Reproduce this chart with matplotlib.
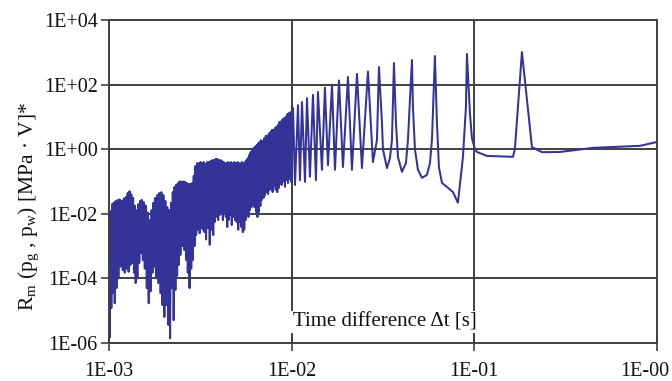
import numpy as np
import matplotlib.pyplot as plt
from matplotlib.ticker import NullLocator
from matplotlib.transforms import ScaledTranslation

plt.rcParams['font.family'] = 'Liberation Serif'
plt.rcParams['mathtext.fontset'] = 'custom'
plt.rcParams['mathtext.rm'] = 'Liberation Serif'
plt.rcParams['mathtext.it'] = 'Liberation Serif:italic'

# dense noisy part, 1E-03 .. 1E-02 s (time in ms)
t_dense_ms = [
    1.003, 1.010, 1.020, 1.030, 1.040, 1.050, 1.062, 1.075, 1.088, 1.100,
    1.115, 1.130, 1.145, 1.160, 1.175, 1.190, 1.205, 1.220, 1.235, 1.250,
    1.265, 1.280, 1.295, 1.310, 1.325, 1.340, 1.355, 1.370, 1.385, 1.400,
    1.415, 1.430, 1.450, 1.465, 1.480, 1.495, 1.510, 1.530, 1.550, 1.570,
    1.590, 1.610, 1.630, 1.650, 1.670, 1.690, 1.710, 1.730, 1.750, 1.770,
    1.790, 1.810, 1.835, 1.860, 1.885, 1.910, 1.935, 1.960, 1.985, 2.010,
    2.035, 2.060, 2.085, 2.110, 2.135, 2.160, 2.185, 2.210, 2.235, 2.260,
    2.285, 2.310, 2.335, 2.360, 2.385, 2.410, 2.435, 2.460, 2.490, 2.520,
    2.550, 2.580, 2.610, 2.640, 2.670, 2.700, 2.730, 2.760, 2.790, 2.820,
    2.850, 2.880, 2.910, 2.940, 2.970, 3.000, 3.035, 3.070, 3.100, 3.135,
    3.170, 3.200, 3.235, 3.270, 3.300, 3.335, 3.370, 3.400, 3.440, 3.480,
    3.520, 3.560, 3.600, 3.640, 3.680, 3.720, 3.760, 3.800, 3.840, 3.880,
    3.920, 3.960, 4.000, 4.040, 4.080, 4.120, 4.160, 4.200, 4.240, 4.280,
    4.320, 4.360, 4.400, 4.440, 4.480, 4.520, 4.560, 4.600, 4.650, 4.700,
    4.750, 4.800, 4.850, 4.900, 4.950, 5.000, 5.050, 5.100, 5.150, 5.200,
    5.250, 5.300, 5.350, 5.400, 5.450, 5.500, 5.550, 5.600, 5.650, 5.700,
    5.750, 5.800, 5.850, 5.900, 5.960, 6.020, 6.080, 6.140, 6.200, 6.260,
    6.320, 6.380, 6.440, 6.500, 6.560, 6.620, 6.680, 6.740, 6.800, 6.870,
    6.940, 7.010, 7.080, 7.150, 7.220, 7.290, 7.360, 7.430, 7.500, 7.570,
    7.640, 7.710, 7.780, 7.860, 7.940, 8.020, 8.100, 8.180, 8.260, 8.340,
    8.420, 8.500, 8.580, 8.660, 8.740, 8.830, 8.920, 9.010, 9.100, 9.190,
    9.280, 9.370, 9.460, 9.550, 9.640, 9.730, 9.820, 9.910,
]
r_dense = [
    4.0e-3, 1.5e-6, 1.2e-2, 1.2e-5, 2.0e-2, 3.5e-5, 2.2e-2, 1.7e-5, 2.5e-2, 5.0e-5,
    2.7e-2, 1.0e-4, 2.8e-2, 2.3e-4, 2.5e-2, 1.8e-4, 3.0e-2, 1.5e-4, 3.3e-2, 2.0e-4,
    4.4e-2, 1.6e-4, 5.0e-2, 2.6e-4, 4.0e-2, 3.0e-4, 3.1e-2, 1.5e-4, 1.8e-2, 7.2e-5,
    1.3e-2, 1.0e-4, 2.0e-2, 3.0e-4, 2.5e-2, 6.1e-4, 2.7e-2, 3.7e-4, 2.3e-2, 2.0e-4,
    1.8e-2, 5.0e-5, 1.1e-2, 1.7e-5, 6.4e-3, 4.0e-5, 1.3e-2, 1.5e-4, 2.2e-2, 2.3e-4,
    3.1e-2, 1.0e-4, 3.8e-2, 7.2e-5, 4.4e-2, 3.5e-5, 4.7e-2, 1.5e-5, 3.8e-2, 6.4e-6,
    2.5e-2, 1.5e-5, 1.6e-2, 3.6e-6, 1.3e-2, 1.4e-6, 2.2e-2, 5.0e-5, 4.7e-2, 5.1e-6,
    6.8e-2, 4.4e-5, 8.0e-2, 1.2e-4, 9.0e-2, 2.6e-4, 0.10, 5.3e-4, 0.10, 1.0e-3,
    0.10, 7.6e-4, 9.7e-2, 3.7e-4, 9.0e-2, 1.5e-4, 8.4e-2, 5.0e-5, 8.4e-2, 2.0e-4,
    9.0e-2, 3.7e-4, 0.15, 1.0e-3, 0.30, 2.2e-3, 0.37, 3.2e-3, 0.37, 2.5e-3,
    0.40, 3.6e-3, 0.37, 3.2e-3, 0.40, 2.7e-3, 0.35, 1.6e-3, 0.40, 3.6e-3,
    0.40, 1.1e-3, 0.43, 3.2e-3, 0.46, 2.2e-3, 0.46, 5.6e-3, 0.50, 8.0e-3,
    0.50, 6.4e-3, 0.46, 9.2e-3, 0.46, 1.06e-2, 0.43, 6.4e-3, 0.40, 1.1e-2,
    0.37, 8.0e-3, 0.37, 3.9e-3, 0.40, 6.4e-3, 0.37, 9.2e-3, 0.40, 4.5e-3,
    0.37, 8.0e-3, 0.40, 6.4e-3, 0.37, 5.6e-3, 0.40, 3.2e-3, 0.37, 5.6e-3,
    0.37, 3.9e-3, 0.40, 2.7e-3, 0.37, 3.2e-3, 0.40, 6.4e-3, 0.46, 1.06e-2,
    0.53, 8.0e-3, 0.66, 1.3e-2, 0.82, 1.6e-2, 1.0, 1.87e-2, 1.1, 1.6e-2,
    1.2, 1.14e-2, 1.35, 8.0e-3, 1.5, 1.14e-2, 1.7, 1.75e-2, 1.9, 2.7e-2,
    1.8, 3.1e-2, 2.2, 3.8e-2, 2.6, 4.7e-2, 2.6, 4.1e-2, 3.0, 5.5e-2,
    3.4, 6.3e-2, 3.9, 4.7e-2, 4.0, 7.3e-2, 4.5, 5.5e-2, 5.0, 4.7e-2,
    5.6, 6.3e-2, 7.0, 8.4e-2, 7.2, 7.8e-2, 8.5, 0.10, 9.2, 6.8e-2,
    10, 0.11, 12, 9.0e-2, 13, 0.12, 14, 0.10,
]

# resolved peaks and the tail, 1E-02 .. 1E-00 s
t_peaks = [
    1.017e-2, 1.043e-2, 1.083e-2, 1.110e-2, 1.139e-2, 1.183e-2, 1.213e-2, 1.259e-2, 1.308e-2, 1.358e-2,
    1.393e-2, 1.465e-2, 1.521e-2, 1.580e-2, 1.662e-2, 1.726e-2, 1.816e-2, 1.909e-2, 2.033e-2, 2.138e-2,
    2.278e-2, 2.425e-2, 2.616e-2, 2.786e-2, 2.931e-2, 3.005e-2, 3.121e-2, 3.160e-2, 3.324e-2, 3.451e-2,
    3.540e-2, 3.631e-2, 3.724e-2, 3.819e-2, 4.015e-2, 4.223e-2, 4.331e-2, 4.556e-2, 4.613e-2, 4.730e-2,
    4.912e-2, 5.168e-2, 5.503e-2, 5.715e-2, 5.861e-2, 6.085e-2, 6.242e-2, 6.401e-2, 6.649e-2, 7.080e-2,
    7.637e-2, 8.130e-2, 8.663e-2, 8.995e-2, 9.110e-2, 9.462e-2, 9.700e-2, 1.008e-1, 1.033e-1, 1.172e-1,
    1.627e-1, 1.667e-1, 1.822e-1, 2.067e-1, 2.344e-1, 2.942e-1, 4.457e-1, 8.06e-1, 1.0,
]
r_peaks = [
    19, 0.078, 23, 0.11, 29, 0.097, 38, 0.14, 48, 0.11,
    59, 0.23, 81, 0.32, 100, 0.23, 134, 0.28, 172, 0.23,
    213, 0.26, 255, 0.40, 1.93, 350, 6.5, 1.0, 0.26, 0.53,
    1.93, 467, 6.5, 0.57, 0.20, 0.37, 1.93, 578, 20, 1.0,
    0.23, 0.13, 0.16, 0.37, 1.93, 767, 6.5, 0.28, 0.090, 0.068,
    0.047, 0.022, 0.57, 20, 885, 13, 2.2, 1.0, 0.82, 0.62,
    0.58, 1.0, 1020, 1.17, 0.81, 0.82, 1.1, 1.27, 1.67,
]

x_ticks = [1e-3, 1e-2, 1e-1, 1.0]
x_labels = ['1E-03', '1E-02', '1E-01', '1E-00']
y_ticks = [1e-6, 1e-4, 1e-2, 1.0, 1e2, 1e4]
y_labels = ['1E-06', '1E-04', '1E-02', '1E+00', '1E+02', '1E+04']

t = np.concatenate([np.array(t_dense_ms) * 1e-3, t_peaks])
r = np.concatenate([r_dense, r_peaks])

fig = plt.figure(figsize=(6.72, 3.81), dpi=100)
ax = fig.add_axes([109 / 672, 1 - 343 / 381, 548 / 672, 323 / 381])

ax.plot(t, r, color='#333399', lw=1.45)

ax.set_xscale('log')
ax.set_yscale('log')
ax.set_xlim(1e-3, 1.0)
ax.set_ylim(1e-6, 1e4)
ax.set_xticks(x_ticks)
ax.set_xticklabels(x_labels)
ax.set_yticks(y_ticks)
ax.set_yticklabels(y_labels)
ax.xaxis.set_minor_locator(NullLocator())
ax.yaxis.set_minor_locator(NullLocator())

gc = '#404040'
ax.grid(True, color=gc, lw=1.4)
for s in ax.spines.values():
    s.set_color(gc)
    s.set_linewidth(1.4)
ax.tick_params(direction='inout', length=12, width=1.2, color=gc,
               labelsize=14.5, labelcolor='#111111')
ax.tick_params(axis='y', pad=2)
ax.tick_params(axis='x', pad=7.5)

# last x label is pulled in a bit so it fits, like the original
last = ax.get_xticklabels()[-1]
last.set_transform(last.get_transform() + ScaledTranslation(-0.12, 0, fig.dpi_scale_trans))

fig.text(29 / 672, 1 - 206 / 381,
         r'R$_\mathrm{m}$ (p$_\mathrm{g}$ , p$_\mathrm{w}$) [MPa · V]*',
         rotation=90, ha='center', va='center', fontsize=15.5, color='#111111')

ax.text(0.503, 0.066, 'Time difference Δt [s]', transform=ax.transAxes,
        ha='center', va='center', fontsize=15, color='#111111',
        bbox=dict(fc='white', ec='none', pad=1))

fig.savefig('out.png', dpi=100)
